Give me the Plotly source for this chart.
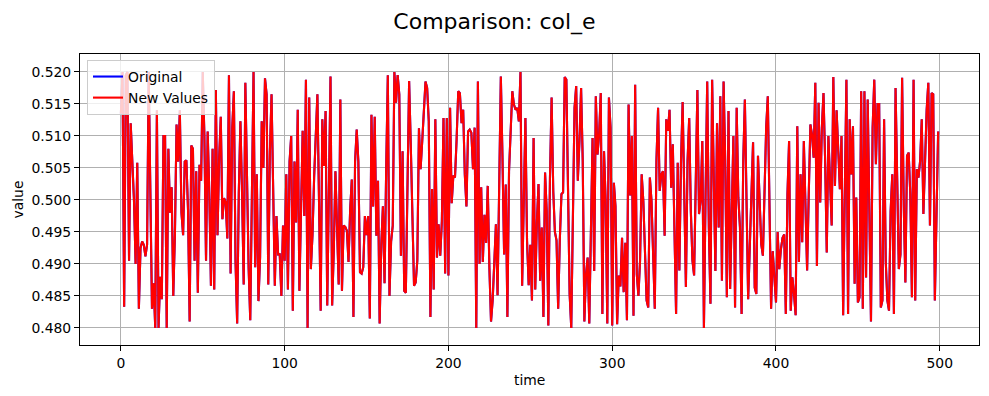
import plotly.graph_objects as go

# time index
time = list(range(500))

# values, in blocks of 50 points
block_000 = [0.5135, 0.5200, 0.4833, 0.5195, 0.5200, 0.4905, 0.5120, 0.5060, 0.5000, 0.4900,
             0.5058, 0.4830, 0.4925, 0.4935, 0.4930, 0.4912, 0.4930, 0.5200, 0.5000, 0.4830,
             0.4870, 0.4800, 0.5140, 0.4800, 0.4880, 0.4845, 0.5100, 0.5100, 0.4800, 0.5080,
             0.4980, 0.5020, 0.4850, 0.4945, 0.5118, 0.5060, 0.5140, 0.4980, 0.4945, 0.5060,
             0.5062, 0.4985, 0.4810, 0.5085, 0.5080, 0.4905, 0.5045, 0.4855, 0.5055, 0.5030]
block_050 = [0.5200, 0.5100, 0.4905, 0.5107, 0.5010, 0.4866, 0.5080, 0.4860, 0.5172, 0.4945,
             0.5065, 0.5130, 0.4970, 0.5003, 0.4997, 0.4940, 0.5195, 0.4885, 0.5112, 0.5170,
             0.4905, 0.4807, 0.5010, 0.5123, 0.5010, 0.4868, 0.5183, 0.5035, 0.4895, 0.4812,
             0.5060, 0.5200, 0.4895, 0.5040, 0.4842, 0.4910, 0.5123, 0.5050, 0.5190, 0.5165,
             0.4868, 0.5075, 0.5165, 0.5025, 0.4866, 0.4975, 0.4915, 0.4915, 0.4850, 0.4960]
block_100 = [0.4905, 0.5040, 0.4860, 0.5060, 0.5100, 0.4827, 0.5060, 0.4965, 0.5141, 0.4858,
             0.4975, 0.5108, 0.4975, 0.5188, 0.4800, 0.5160, 0.4892, 0.4945, 0.5035, 0.5110,
             0.5165, 0.4995, 0.4827, 0.5126, 0.5053, 0.5139, 0.4835, 0.5010, 0.5193, 0.4835,
             0.4920, 0.5045, 0.4944, 0.4868, 0.5157, 0.4858, 0.4960, 0.4958, 0.4952, 0.4903,
             0.4985, 0.5032, 0.4817, 0.5060, 0.5110, 0.5060, 0.4887, 0.4885, 0.4895, 0.4975]
block_150 = [0.4945, 0.4975, 0.4815, 0.5133, 0.4990, 0.5130, 0.4944, 0.5030, 0.4807, 0.4930,
             0.4990, 0.4870, 0.5050, 0.5195, 0.4850, 0.4935, 0.4960, 0.5200, 0.5152, 0.5195,
             0.5165, 0.4913, 0.5076, 0.4858, 0.4855, 0.5060, 0.5186, 0.5087, 0.4957, 0.4866,
             0.4871, 0.4905, 0.5112, 0.5048, 0.5092, 0.5150, 0.5185, 0.5175, 0.5123, 0.4817,
             0.5017, 0.4860, 0.5126, 0.4910, 0.4962, 0.4913, 0.4967, 0.5128, 0.4885, 0.5128]
block_200 = [0.4882, 0.5144, 0.4995, 0.5038, 0.5035, 0.5095, 0.5170, 0.5167, 0.5120, 0.5141,
             0.5040, 0.4990, 0.5107, 0.5110, 0.5105, 0.5048, 0.5113, 0.4800, 0.5185, 0.4900,
             0.5020, 0.4903, 0.4977, 0.4933, 0.5022, 0.4895, 0.4810, 0.4843, 0.4900, 0.4962,
             0.4851, 0.5045, 0.5193, 0.5066, 0.4915, 0.5024, 0.4817, 0.5045, 0.5113, 0.5170,
             0.5149, 0.5141, 0.5144, 0.5123, 0.5200, 0.4866, 0.4998, 0.5128, 0.4936, 0.4867]
block_250 = [0.4930, 0.4843, 0.5097, 0.4860, 0.4965, 0.5025, 0.4874, 0.4957, 0.4817, 0.5043,
             0.4983, 0.4804, 0.5035, 0.5160, 0.5014, 0.4950, 0.4937, 0.4830, 0.4937, 0.5009,
             0.5012, 0.5192, 0.5188, 0.5009, 0.4853, 0.4800, 0.4983, 0.5144, 0.5178, 0.5030,
             0.5092, 0.5175, 0.5061, 0.4810, 0.4884, 0.4910, 0.4807, 0.4941, 0.5097, 0.4889,
             0.5162, 0.5071, 0.5102, 0.5167, 0.4822, 0.5076, 0.4998, 0.4807, 0.5160, 0.5113]
block_300 = [0.4804, 0.5027, 0.4990, 0.4806, 0.4882, 0.4865, 0.4941, 0.4856, 0.4933, 0.4812,
             0.5149, 0.5007, 0.5100, 0.4819, 0.5180, 0.4884, 0.4850, 0.4905, 0.5040, 0.4998,
             0.4910, 0.4843, 0.4832, 0.5035, 0.4998, 0.4895, 0.4830, 0.5061, 0.5144, 0.5014,
             0.5040, 0.5045, 0.4944, 0.5126, 0.5108, 0.5141, 0.5019, 0.5087, 0.4957, 0.4822,
             0.5058, 0.4890, 0.5061, 0.5153, 0.5009, 0.4864, 0.5061, 0.5128, 0.4983, 0.4905]
block_350 = [0.4882, 0.5010, 0.5172, 0.4978, 0.4999, 0.5092, 0.4800, 0.5009, 0.5185, 0.4957,
             0.4838, 0.5188, 0.5009, 0.4889, 0.5120, 0.4957, 0.5162, 0.4874, 0.5185, 0.5061,
             0.4848, 0.5139, 0.4861, 0.4983, 0.5100, 0.4832, 0.5144, 0.5004, 0.4957, 0.4822,
             0.5061, 0.5157, 0.5009, 0.4845, 0.4926, 0.5009, 0.5090, 0.4863, 0.4853, 0.5069,
             0.4983, 0.4931, 0.4913, 0.5035, 0.5113, 0.5162, 0.5009, 0.4830, 0.4920, 0.4870]
block_400 = [0.4840, 0.4950, 0.4892, 0.4923, 0.4941, 0.4946, 0.4822, 0.5009, 0.5092, 0.4827,
             0.4879, 0.4853, 0.4820, 0.5115, 0.4903, 0.5040, 0.4934, 0.5092, 0.5009, 0.4890,
             0.5009, 0.5118, 0.5102, 0.5066, 0.5183, 0.4897, 0.5152, 0.4996, 0.5113, 0.5167,
             0.5061, 0.4918, 0.5100, 0.5035, 0.4960, 0.5192, 0.5022, 0.5140, 0.5061, 0.5017,
             0.5100, 0.4820, 0.5009, 0.5188, 0.4822, 0.5126, 0.5040, 0.5115, 0.4869, 0.5004]
block_450 = [0.4840, 0.4848, 0.5170, 0.4830, 0.5170, 0.4879, 0.5157, 0.4957, 0.4810, 0.5113,
             0.5188, 0.5056, 0.5150, 0.5150, 0.4832, 0.4843, 0.5126, 0.4905, 0.4843, 0.4827,
             0.4983, 0.5040, 0.4822, 0.5175, 0.5009, 0.4892, 0.4915, 0.5191, 0.4993, 0.4871,
             0.5069, 0.5074, 0.5009, 0.4848, 0.5188, 0.4843, 0.5048, 0.5035, 0.5061, 0.5126,
             0.4978, 0.5066, 0.5141, 0.5183, 0.4960, 0.5167, 0.5165, 0.4843, 0.5009, 0.5107]

original = (block_000 + block_050 + block_100 + block_150 + block_200 +
            block_250 + block_300 + block_350 + block_400 + block_450)
new_values = list(original)  # the two series coincide in the chart

x_ticks = [0, 100, 200, 300, 400, 500]
y_ticks = [0.480, 0.485, 0.490, 0.495, 0.500, 0.505, 0.510, 0.515, 0.520]

FONT = "DejaVu Sans"
OFF = 8  # page body margin of the browser
W, H = 989 - OFF, 396 - OFF
L, R, T, B = 80 - OFF, 10, 54 - OFF, 51
PW, PH = W - L - R, H - T - B

fig = go.Figure()
fig.add_trace(go.Scatter(x=time, y=original, mode="lines", name="Original",
                         line=dict(color="#0000ff", width=2.1)))
fig.add_trace(go.Scatter(x=time, y=new_values, mode="lines", name="New Values",
                         line=dict(color="#ff0000", width=2.1)))

axis_common = dict(showgrid=True, gridcolor="#b0b0b0", gridwidth=1.1,
                   showline=True, linecolor="black", linewidth=1.1, mirror=True,
                   ticks="outside", ticklen=5, tickwidth=1.1, tickcolor="black",
                   zeroline=False, tickfont=dict(family=FONT, size=13.9, color="black"))

fig.update_layout(
    width=W, height=H,
    margin=dict(l=L, r=R, t=T, b=B, autoexpand=False),
    paper_bgcolor="white", plot_bgcolor="white",
    font=dict(family=FONT, size=13.9, color="black"),
    title=dict(text="Comparison: col_e", x=(494.5 - OFF) / W, xanchor="center",
               xref="container", y=1 - (21 - OFF) / H, yref="container", yanchor="middle",
               font=dict(family=FONT, size=22, color="black")),
    xaxis=dict(range=[-24.95, 523.95], tickvals=x_ticks, **axis_common),
    yaxis=dict(range=[0.47734, 0.52281], tickvals=y_ticks, tickformat=".3f", **axis_common),
    legend=dict(x=7 / PW, y=1 - 6 / PH, xanchor="left", yanchor="top",
                bgcolor="rgba(255,255,255,0.8)", bordercolor="#cccccc", borderwidth=1,
                font=dict(family=FONT, size=13.9, color="black"),
                itemwidth=30, tracegroupgap=0),
    showlegend=True,
    annotations=[
        dict(text="time", xref="paper", yref="paper", x=0.5, y=-(380 - 345) / PH,
             xanchor="center", yanchor="middle", showarrow=False,
             font=dict(family=FONT, size=13.9, color="black")),
        dict(text="value", xref="paper", yref="paper", x=(17 - 80) / PW, y=0.5,
             xanchor="center", yanchor="middle", textangle=-90, showarrow=False,
             font=dict(family=FONT, size=13.9, color="black")),
    ],
)

fig.write_html("out.html")
